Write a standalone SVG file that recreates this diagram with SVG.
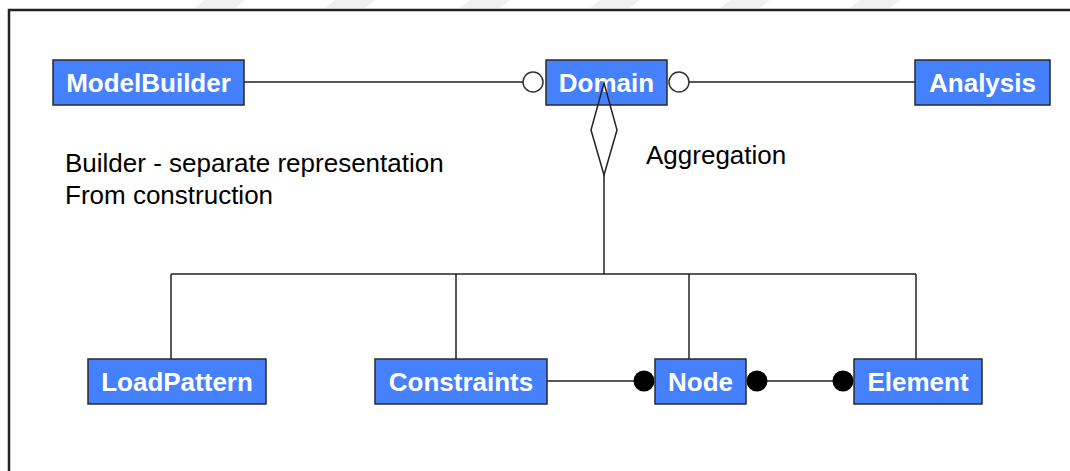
<svg xmlns="http://www.w3.org/2000/svg" width="1070" height="471" viewBox="0 0 1070 471">
<style>
.box{fill:#4580ff;stroke:#2a2a2a;stroke-width:1.5}
.lbl{font-family:"Liberation Sans",Arial,sans-serif;font-weight:bold;font-size:26px;fill:#ffffff;text-anchor:middle}
.txt{font-family:"Liberation Sans",Arial,sans-serif;font-size:26px;fill:#000}
.ln{stroke:#222;stroke-width:1.5;fill:none}
</style>
<rect width="1070" height="471" fill="#fff"/>
<g fill="#f0f0f0">
<polygon points="205,0 245,0 235,8 195,8"/>
<polygon points="335,0 375,0 365,8 325,8"/>
<polygon points="470,0 510,0 500,8 460,8"/>
<polygon points="600,0 640,0 630,8 590,8"/>
<polygon points="730,0 770,0 760,8 720,8"/>
<polygon points="860,0 900,0 890,8 850,8"/>
</g>
<path d="M9,471 V10 H1070" fill="none" stroke="#222" stroke-width="2.5"/>
<g id="connectors">
<line class="ln" x1="244" y1="82" x2="523" y2="82"/>
<circle cx="533" cy="82" r="10" fill="#fff" stroke="#333" stroke-width="1.5"/>
<line class="ln" x1="689" y1="82" x2="915" y2="82"/>
<circle cx="679" cy="82" r="10" fill="#fff" stroke="#333" stroke-width="1.5"/>
<line class="ln" x1="604" y1="175" x2="604" y2="274"/>
<line class="ln" x1="171" y1="274" x2="916" y2="274"/>
<line class="ln" x1="171" y1="274" x2="171" y2="359"/>
<line class="ln" x1="456" y1="274" x2="456" y2="359"/>
<line class="ln" x1="689" y1="274" x2="689" y2="359"/>
<line class="ln" x1="916" y1="274" x2="916" y2="359"/>
<line class="ln" x1="547" y1="381" x2="643" y2="381"/>
<circle cx="644" cy="381" r="10.5" fill="#000"/>
<line class="ln" x1="757" y1="381" x2="843" y2="381"/>
<circle cx="757" cy="381" r="10.5" fill="#000"/>
<circle cx="843" cy="381" r="10.5" fill="#000"/>
</g>
<g id="ModelBuilder"><rect class="box" x="53" y="60" width="191" height="45"/><text class="lbl" x="148.5" y="92">ModelBuilder</text></g>
<g id="Domain"><rect class="box" x="546" y="60" width="121" height="45"/><text class="lbl" x="606.5" y="92">Domain</text></g>
<g id="Analysis"><rect class="box" x="915" y="60" width="135" height="45"/><text class="lbl" x="982.5" y="92">Analysis</text></g>
<polygon id="aggregation-diamond" points="604,83 617,130 604,175 591,130" fill="none" stroke="#222" stroke-width="1.5"/>
<g id="LoadPattern"><rect class="box" x="88" y="359" width="178" height="45"/><text class="lbl" x="177" y="391">LoadPattern</text></g>
<g id="Constraints"><rect class="box" x="375" y="359" width="172" height="45"/><text class="lbl" x="461" y="391">Constraints</text></g>
<g id="Node"><rect class="box" x="655" y="359" width="91" height="45"/><text class="lbl" x="700.5" y="391">Node</text></g>
<g id="Element"><rect class="box" x="854" y="359" width="128" height="45"/><text class="lbl" x="918" y="391">Element</text></g>
<text class="txt" x="65" y="172">Builder - separate representation</text>
<text class="txt" x="65" y="204">From construction</text>
<text class="txt" x="646" y="164">Aggregation</text>
</svg>
